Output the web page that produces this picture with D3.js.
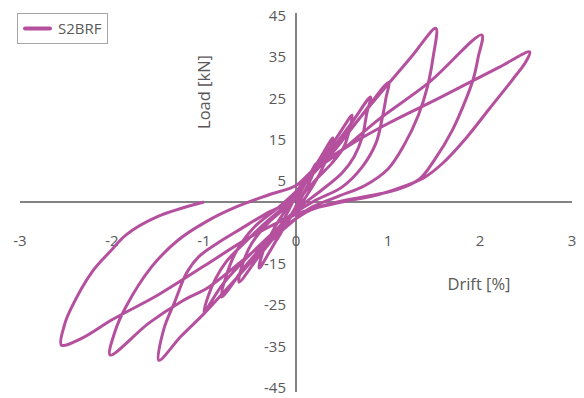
<!DOCTYPE html>
<html>
<head>
<meta charset="utf-8">
<script src="https://cdn.jsdelivr.net/npm/d3@7"></script>
<style>
  body { margin: 0; background: #fff; }
  svg text { font-family: "Open Sans", sans-serif; fill: #595959; }
</style>
</head>
<body>
<div id="chart"></div>
<script>
const cycle1 = [[0,0],[0.1,4.5],[0.22,9.4],[0.17,6],[0.08,2],[0,-1.5],[-0.1,-5],[-0.22,-9.5],[-0.17,-6],[-0.08,-2],[0,1.5]];
const cycle2 = [[0.12,5.5],[0.26,10.5],[0.4,15.5],[0.35,11.5],[0.25,6.5],[0.1,1],[0,-2],[-0.13,-6],[-0.26,-11],[-0.4,-16],[-0.35,-11.5],[-0.24,-6.5],[-0.1,-1.5],[0,2]];
const cycle3 = [[0.1,5.5],[0.3,11],[0.47,16.5],[0.61,21],[0.58,17.4],[0.52,13.3],[0.39,9.4],[0.22,5.5],[0.05,1],[-0.05,-3],[-0.2,-7.5],[-0.4,-13],[-0.62,-19.4],[-0.58,-15],[-0.48,-10],[-0.3,-5],[-0.1,-1],[0.05,3]];
const cycle4 = [[0.2,7.5],[0.4,13],[0.6,19],[0.81,25.4],[0.77,21.5],[0.72,15.7],[0.63,10.9],[0.5,7],[0.28,2.9],[0.05,-1],[-0.1,-4],[-0.3,-9],[-0.55,-15.5],[-0.81,-23],[-0.76,-18],[-0.65,-12],[-0.45,-6],[-0.2,-1.5],[0,2.5]];
const cycle5 = [[0.15,6],[0.4,12],[0.7,20.5],[1.01,29],[0.98,25.4],[0.94,20.6],[0.87,14.3],[0.72,8.5],[0.5,3.6],[0.22,0.5],[0.03,-2],[-0.1,-4.5],[-0.35,-9.5],[-0.6,-15],[-0.8,-20],[-1.0,-26.6],[-0.95,-22.5],[-0.87,-18.4],[-0.76,-14.5],[-0.59,-10.5],[-0.33,-5],[-0.1,-0.5],[0,2.5]];
const cycle6 = [[0.15,6.5],[0.4,12.5],[0.7,20.5],[1.0,28.5],[1.25,35],[1.52,42],[1.49,35],[1.43,28],[1.33,21],[1.18,14],[1.0,8],[0.75,4],[0.45,1.3],[0.15,-1.5],[0,-4],[-0.3,-10],[-0.65,-18.5],[-1.0,-27],[-1.25,-32.5],[-1.49,-38.3],[-1.44,-31],[-1.31,-23.7],[-1.19,-17.2],[-1.06,-13.3],[-0.87,-10.2],[-0.6,-6.5],[-0.3,-2.5],[0,1]];
const cycle7 = [[0.1,5.5],[0.5,12.5],[0.9,20],[1.45,29],[2.02,40.4],[1.98,35],[1.93,30],[1.85,25],[1.7,17.4],[1.5,10],[1.34,5.5],[1.1,3],[0.8,1.5],[0.45,0],[0.15,-2],[0,-4],[-0.3,-9],[-0.6,-14.5],[-0.95,-20.6],[-1.24,-24],[-1.6,-29.3],[-2.02,-37],[-1.97,-31.5],[-1.85,-25.4],[-1.57,-15.7],[-1.28,-9.2],[-0.98,-4.8],[-0.65,-1.2],[-0.3,1.7],[0,4]];
const cycle8 = [[0.2,8],[0.6,14],[1.0,19],[1.56,25.2],[2.2,32.5],[2.54,36.3],[2.5,34],[2.35,29.5],[2.1,22.5],[1.85,15.5],[1.6,9.5],[1.4,6],[1.2,4],[0.9,1.8],[0.5,0],[0.2,-1.5],[0,-3],[-0.5,-8.5],[-1.0,-15.5],[-1.5,-22.5],[-2.0,-28.5],[-2.33,-33],[-2.55,-34.6],[-2.52,-30],[-2.45,-26],[-2.22,-17],[-2.0,-11.5],[-1.85,-8],[-1.5,-3.5],[-1.0,0]];

const xTicks = [-3, -2, -1, 0, 1, 2, 3];
const yTicks = [-45, -35, -25, -15, -5, 5, 15, 25, 35, 45];
const seriesName = "S2BRF";

const data = [].concat(cycle1, cycle2, cycle3, cycle4, cycle5, cycle6, cycle7, cycle8);

const width = 584, height = 398;
const color = "#b4509e";
const axisColor = "#595959";

const svg = d3.select("#chart").append("svg")
    .attr("width", width)
    .attr("height", height);

const x = d3.scaleLinear().domain([-3, 3]).range([20, 572]);
const y = d3.scaleLinear().domain([-45, 45]).range([388, 16]);

// axes through the origin
svg.append("line")
    .attr("x1", x(-3)).attr("x2", x(3))
    .attr("y1", y(0)).attr("y2", y(0))
    .attr("stroke", axisColor).attr("stroke-width", 1.5);
svg.append("line")
    .attr("x1", x(0)).attr("x2", x(0))
    .attr("y1", y(45) - 3).attr("y2", y(-45) + 4)
    .attr("stroke", axisColor).attr("stroke-width", 1.5);

// tick labels
svg.selectAll(".xt").data(xTicks).enter().append("text")
    .attr("x", d => x(d))
    .attr("y", y(0) + 44)
    .attr("text-anchor", "middle")
    .attr("font-size", 15)
    .text(d => d);

svg.selectAll(".yt").data(yTicks).enter().append("text")
    .attr("x", x(0) - 10)
    .attr("y", d => y(d) + 5)
    .attr("text-anchor", "end")
    .attr("font-size", 15)
    .text(d => d);

// axis titles
svg.append("text")
    .attr("x", 479).attr("y", 290)
    .attr("text-anchor", "middle")
    .attr("font-size", 16.5)
    .text("Drift [%]");
svg.append("text")
    .attr("transform", "translate(210,92) rotate(-90)")
    .attr("text-anchor", "middle")
    .attr("font-size", 16.5)
    .text("Load [kN]");

// hysteresis curve
const line = d3.line()
    .x(d => x(d[0]))
    .y(d => y(d[1]))
    .curve(d3.curveCatmullRom.alpha(0.5));

svg.append("path")
    .datum(data)
    .attr("d", line)
    .attr("fill", "none")
    .attr("stroke", color)
    .attr("stroke-width", 3)
    .attr("stroke-linejoin", "round");

// legend
const legend = svg.append("g");
legend.append("rect")
    .attr("x", 17.5).attr("y", 13.5)
    .attr("width", 90).attr("height", 30)
    .attr("fill", "#fff")
    .attr("stroke", "#a6a6a6");
legend.append("line")
    .attr("x1", 25).attr("x2", 50)
    .attr("y1", 28.5).attr("y2", 28.5)
    .attr("stroke", color).attr("stroke-width", 4)
    .attr("stroke-linecap", "round");
legend.append("text")
    .attr("x", 58).attr("y", 34)
    .attr("font-size", 15)
    .text(seriesName);
</script>
</body>
</html>
